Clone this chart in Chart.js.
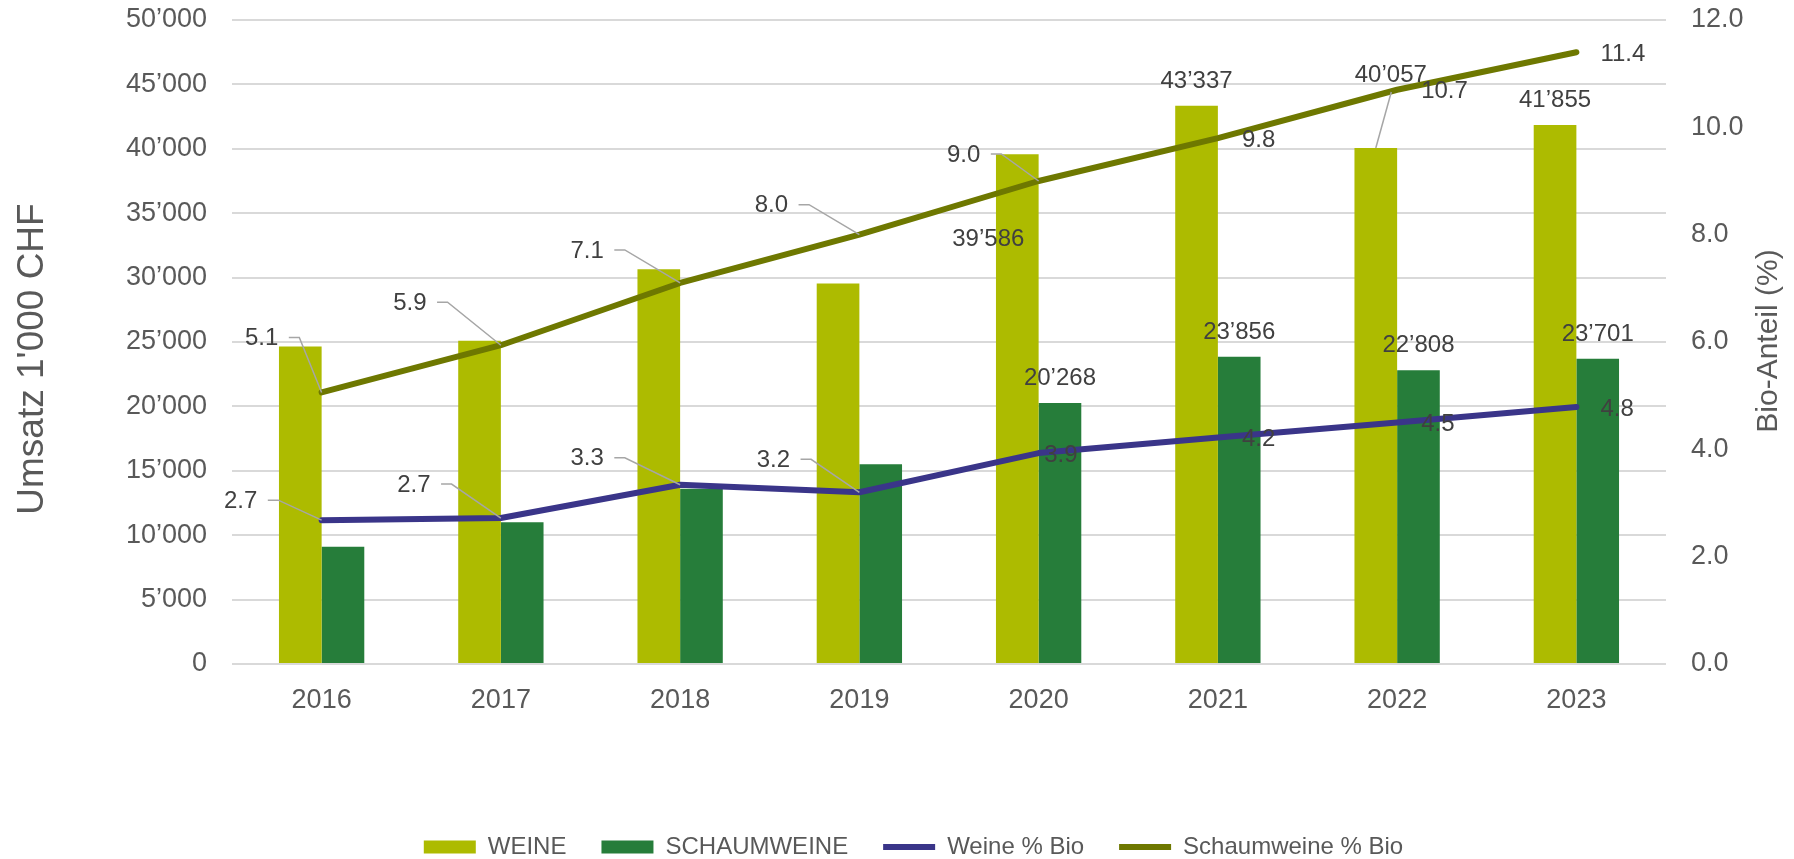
<!DOCTYPE html>
<html><head><meta charset="utf-8">
<script src="https://cdn.jsdelivr.net/npm/chart.js@4.4.1/dist/chart.umd.min.js"></script>
<style>html,body{margin:0;padding:0;background:#fff;overflow:hidden}canvas{display:block}</style>
</head><body>
<canvas id="c" width="1794" height="859"></canvas>
<script>
// ---------- data ----------
const categories = ['2016','2017','2018','2019','2020','2021','2022','2023'];
const weine = [24650, 25100, 30650, 29550, 39586, 43337, 40057, 41855];
const schaumweine = [9100, 11000, 13600, 15500, 20268, 23856, 22808, 23701];
const weineBioPct = [2.68, 2.72, 3.34, 3.2, 3.93, 4.22, 4.5, 4.79];
const schaumweineBioPct = [5.06, 5.94, 7.1, 8.0, 9.0, 9.8, 10.7, 11.4];
const leftTickLabels = ['0','5’000','10’000','15’000','20’000','25’000','30’000','35’000','40’000','45’000','50’000'];
const rightTickLabels = ['0.0','2.0','4.0','6.0','8.0','10.0','12.0'];
const seriesNames = ['WEINE','SCHAUMWEINE','Weine % Bio','Schaumweine % Bio'];
const axisTitles = ["Umsatz 1'000 CHF", 'Bio-Anteil (%)'];

// ---------- label placement (styling only) ----------
const weineLabelPlace = [null,null,null,null,{t:'free',dx:-29,dy:85},{t:'top'},{t:'barLeader',dx:15,dy:-73},{t:'top'}];
const schaumLabelPlace = [null,null,null,null,{t:'top'},{t:'top'},{t:'top'},{t:'top'}];
const weinePctPlace = [{t:'leader',dx:-81,dy:-19},{t:'leader',dx:-87,dy:-33},{t:'leader',dx:-93,dy:-26},{t:'leader',dx:-86,dy:-32},{t:'right',gap:5.5},{t:'right'},{t:'right'},{t:'right'}];
const schaumPctPlace = [{t:'leader',dx:-60,dy:-54},{t:'leader',dx:-91,dy:-42},{t:'leader',dx:-93,dy:-32},{t:'leader',dx:-88,dy:-29},{t:'leader',dx:-75,dy:-26},{t:'right'},{t:'right'},{t:'right'}];

const FAMILY = "'Liberation Sans', Arial, sans-serif";
Chart.defaults.font.family = FAMILY;
Chart.defaults.color = '#595959';

const fmtThousands = v => Math.round(v).toString().replace(/\B(?=(\d{3})+(?!\d))/g, '’');
const fmtPct = v => v.toFixed(1);

const valueLabels = {
  id: 'valueLabels',
  afterDatasetsDraw(chart) {
    const ctx = chart.ctx;
    ctx.save();
    ctx.font = '24px ' + FAMILY;
    ctx.textBaseline = 'middle';
    chart.data.datasets.forEach((ds, di) => {
      const meta = chart.getDatasetMeta(di);
      const places = ds.labelPlace;
      meta.data.forEach((el, i) => {
        const p = places[i];
        if (!p) return;
        const txt = ds.fmt(ds.data[i]);
        const w = ctx.measureText(txt).width;
        let cx, cy;
        if (p.t === 'top') { cx = el.x; cy = el.y - 24.5; }
        else if (p.t === 'right') { cx = el.x + (p.gap ?? 24) + w / 2; cy = el.y + 2; }
        else { cx = el.x + p.dx; cy = el.y + p.dy; }
        ctx.strokeStyle = '#a6a6a6';
        ctx.lineWidth = 1.5;
        if (p.t === 'leader') {
          const lx = cx + w / 2 + 10.5, ly = cy - 1;
          ctx.beginPath();
          ctx.moveTo(lx, ly); ctx.lineTo(lx + 10.5, ly); ctx.lineTo(el.x, el.y);
          ctx.stroke();
        } else if (p.t === 'barLeader') {
          ctx.beginPath();
          ctx.moveTo(el.x, el.y); ctx.lineTo(cx + 0.5, cy + 17);
          ctx.stroke();
        }
        ctx.fillStyle = '#404040';
        ctx.textAlign = 'center';
        ctx.fillText(txt, cx, cy);
      });
    });
    ctx.restore();
  }
};

const axisTitlePlugin = {
  id: 'axisTitlePlugin',
  afterDraw(chart) {
    const {ctx, chartArea} = chart;
    const midY = (chartArea.top + chartArea.bottom) / 2;
    ctx.save();
    ctx.fillStyle = '#595959';
    ctx.textAlign = 'center';
    ctx.textBaseline = 'middle';
    ctx.font = '37px ' + FAMILY;
    ctx.translate(chart.scales.y.left + 32.5, midY + 17);
    ctx.rotate(-Math.PI / 2);
    ctx.fillText(axisTitles[0], 0, 0);
    ctx.restore();
    ctx.save();
    ctx.fillStyle = '#595959';
    ctx.textAlign = 'center';
    ctx.textBaseline = 'middle';
    ctx.font = '30px ' + FAMILY;
    ctx.translate(chart.scales.y1.right - 25, midY - 1);
    ctx.rotate(-Math.PI / 2);
    ctx.fillText(axisTitles[1], 0, 0);
    ctx.restore();
  }
};

const legendShift = {
  id: 'legendShift',
  afterLayout(chart) {
    const l = chart.legend;
    l.top += 10; l.bottom += 10; l.left += 16.5; l.right += 16.5;
  }
};

new Chart(document.getElementById('c'), {
  data: {
    labels: categories,
    datasets: [
      { type: 'bar', label: seriesNames[0], data: weine, backgroundColor: '#ADBB00', borderWidth: 0,
        yAxisID: 'y', order: 2, pointStyle: 'rect', labelPlace: weineLabelPlace, fmt: fmtThousands },
      { type: 'bar', label: seriesNames[1], data: schaumweine, backgroundColor: '#267D3A', borderWidth: 0,
        yAxisID: 'y', order: 2, pointStyle: 'rect', labelPlace: schaumLabelPlace, fmt: fmtThousands },
      { type: 'line', label: seriesNames[2], data: weineBioPct, borderColor: '#3A3589', backgroundColor: '#3A3589',
        borderWidth: 6, pointRadius: 0, tension: 0, borderCapStyle: 'round', borderJoinStyle: 'round',
        yAxisID: 'y1', order: 1, pointStyle: 'line', labelPlace: weinePctPlace, fmt: fmtPct },
      { type: 'line', label: seriesNames[3], data: schaumweineBioPct, borderColor: '#6E7800', backgroundColor: '#6E7800',
        borderWidth: 6, pointRadius: 0, tension: 0, borderCapStyle: 'round', borderJoinStyle: 'round',
        yAxisID: 'y1', order: 1, pointStyle: 'line', labelPlace: schaumPctPlace, fmt: fmtPct }
    ]
  },
  options: {
    responsive: false,
    animation: false,
    devicePixelRatio: 1,
    layout: { padding: { top: 20, left: 0, right: 0, bottom: 0 } },
    datasets: { bar: { categoryPercentage: 0.476, barPercentage: 1.0 } },
    plugins: {
      legend: {
        position: 'bottom',
        labels: {
          usePointStyle: true, pointStyleWidth: 52, boxHeight: 13,
          padding: 35, color: '#595959', font: { size: 24 },
          sort: (a, b) => a.datasetIndex - b.datasetIndex
        }
      },
      tooltip: { enabled: false },
      title: { display: false }
    },
    scales: {
      x: {
        grid: { display: false, drawTicks: false },
        border: { display: false },
        ticks: { font: { size: 27 }, color: '#595959', padding: 20 },
        afterFit: s => { s.height = 126; s.paddingLeft = 0; s.paddingRight = 0; }
      },
      y: {
        position: 'left', min: 0, max: 50000,
        ticks: { stepSize: 5000, font: { size: 27 }, color: '#595959', padding: 25,
                 callback: (v, i) => leftTickLabels[i] },
        grid: { color: '#d9d9d9', lineWidth: 2, drawTicks: false },
        border: { display: false },
        afterFit: s => { s.width = 232; s.paddingTop = 0; s.paddingBottom = 0; }
      },
      y1: {
        position: 'right', min: 0, max: 12,
        ticks: { stepSize: 2, font: { size: 27 }, color: '#595959', padding: 25,
                 callback: (v, i) => rightTickLabels[i] },
        grid: { display: false, drawTicks: false },
        border: { display: false },
        afterFit: s => { s.width = 128; s.paddingTop = 0; s.paddingBottom = 0; }
      }
    }
  },
  plugins: [valueLabels, axisTitlePlugin, legendShift]
});
</script>
</body></html>
